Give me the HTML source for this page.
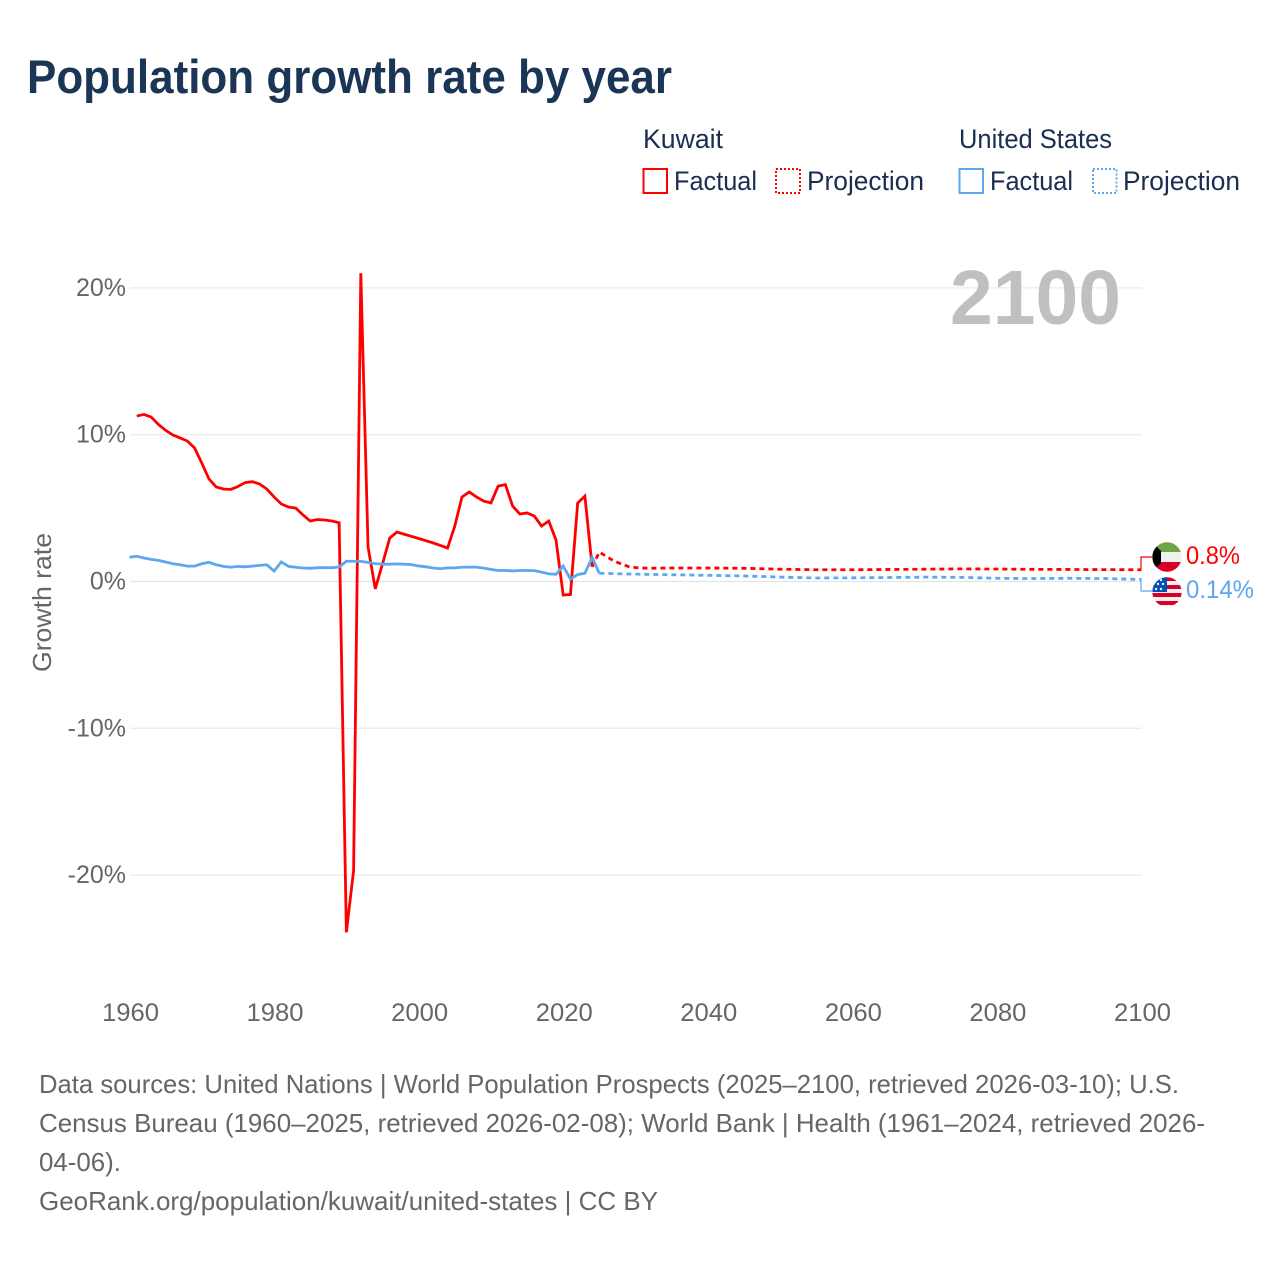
<!DOCTYPE html>
<html lang="en">
<head>
<meta charset="utf-8">
<title>Population growth rate by year</title>
<style>
html,body{margin:0;padding:0;background:#fff;}
svg{display:block;font-family:"Liberation Sans",sans-serif;}
</style>
</head>
<body>
<svg id="chart" width="1280" height="1280" viewBox="0 0 1280 1280" xmlns="http://www.w3.org/2000/svg">
  <rect width="1280" height="1280" fill="#fff"/>
  <text x="27" y="93" font-size="47" font-weight="bold" fill="#1a3556" textLength="645" lengthAdjust="spacingAndGlyphs">Population growth rate by year</text>

  <g font-size="27" fill="#1a2e50">
    <text x="643" y="148" textLength="80" lengthAdjust="spacingAndGlyphs">Kuwait</text>
    <text x="959" y="148" textLength="153" lengthAdjust="spacingAndGlyphs">United States</text>
    <rect x="643.5" y="169" width="23.5" height="24" fill="none" stroke="#ff0000" stroke-width="2"/>
    <text x="674" y="190" textLength="83" lengthAdjust="spacingAndGlyphs">Factual</text>
    <rect x="776" y="169" width="24" height="24" fill="none" stroke="#ff0000" stroke-width="2" stroke-dasharray="2 2"/>
    <text x="807" y="190" textLength="117" lengthAdjust="spacingAndGlyphs">Projection</text>
    <rect x="959.5" y="169" width="23.5" height="24" fill="none" stroke="#5ca7f0" stroke-width="2"/>
    <text x="990" y="190" textLength="83" lengthAdjust="spacingAndGlyphs">Factual</text>
    <rect x="1093" y="169" width="23.5" height="24" fill="none" stroke="#5ca7f0" stroke-width="2" stroke-dasharray="2 2"/>
    <text x="1123" y="190" textLength="117" lengthAdjust="spacingAndGlyphs">Projection</text>
  </g>

  <g id="grid"></g>
  <g id="yticks" font-size="25" fill="#666" text-anchor="end"></g>
  <g id="xticks" font-size="25" fill="#666" text-anchor="middle"></g>

  <text transform="translate(51,672) rotate(-90)" font-size="26" fill="#666" textLength="139" lengthAdjust="spacingAndGlyphs">Growth rate</text>
  <text x="950" y="324" font-size="77" font-weight="bold" fill="#c0c0c0" textLength="171" lengthAdjust="spacingAndGlyphs">2100</text>

  <g id="series"></g>

  <g>
    <clipPath id="clip-kw"><circle cx="1167" cy="557" r="14.7"/></clipPath>
    <clipPath id="clip-us"><circle cx="1167" cy="592" r="14.7"/></clipPath>
    <g clip-path="url(#clip-kw)">
      <rect x="1152" y="542" width="30" height="10" fill="#6da544"/>
      <rect x="1152" y="552" width="30" height="10" fill="#f0f0f0"/>
      <rect x="1152" y="562" width="30" height="10" fill="#d80027"/>
      <polygon points="1152,542 1161,551 1161,563 1152,572" fill="#000"/>
    </g>
    <g clip-path="url(#clip-us)">
      <rect x="1152" y="577" width="30" height="30" fill="#f0f0f0"/>
      <rect x="1152" y="577" width="30" height="4" fill="#d80027"/>
      <rect x="1152" y="585" width="30" height="4" fill="#d80027"/>
      <rect x="1152" y="593" width="30" height="4" fill="#d80027"/>
      <rect x="1152" y="601" width="30" height="4" fill="#d80027"/>
      <rect x="1152" y="577" width="15" height="15" fill="#0052b4"/>
      <circle cx="1156" cy="589" r="1.2" fill="#f0f0f0"/>
      <circle cx="1161" cy="589" r="1.2" fill="#f0f0f0"/>
      <circle cx="1158" cy="584" r="1.2" fill="#f0f0f0"/>
      <circle cx="1163" cy="584" r="1.2" fill="#f0f0f0"/>
      <circle cx="1161" cy="580" r="1.2" fill="#f0f0f0"/>
    </g>
    <polyline points="1141,569 1141,557 1152,557" fill="none" stroke="#ff0000" stroke-width="1.2"/>
    <polyline points="1141,579 1141,591 1152,591" fill="none" stroke="#5ca7f0" stroke-width="1.2"/>
    <text x="1186" y="564" font-size="25" fill="#ff0000" textLength="54" lengthAdjust="spacingAndGlyphs">0.8%</text>
    <text x="1186" y="598" font-size="25" fill="#5ca7f0" textLength="68" lengthAdjust="spacingAndGlyphs">0.14%</text>
  </g>

  <g font-size="26" fill="#666">
    <text x="39" y="1093" textLength="1140" lengthAdjust="spacingAndGlyphs">Data sources: United Nations | World Population Prospects (2025–2100, retrieved 2026-03-10); U.S.</text>
    <text x="39" y="1132" textLength="1166" lengthAdjust="spacingAndGlyphs">Census Bureau (1960–2025, retrieved 2026-02-08); World Bank | Health (1961–2024, retrieved 2026-</text>
    <text x="39" y="1171" textLength="82" lengthAdjust="spacingAndGlyphs">04-06).</text>
    <text x="39" y="1210" textLength="619" lengthAdjust="spacingAndGlyphs">GeoRank.org/population/kuwait/united-states | CC BY</text>
  </g>
</svg>
<script>
const xTickYears = [1960, 1980, 2000, 2020, 2040, 2060, 2080, 2100];
const yTickValues = [20, 10, 0, -10, -20];
const yTickLabels = ['20%', '10%', '0%', '-10%', '-20%'];

const kuwaitFactualYears = [1961,1962,1963,1964,1965,1966,1967,1968,1969,1970,1971,1972,1973,1974,1975,1976,1977,1978,1979,1980,1981,1982,1983,1984,1985,1986,1987,1988,1989,1990,1991,1992,1993,1994,1995,1996,1997,1998,1999,2000,2001,2002,2003,2004,2005,2006,2007,2008,2009,2010,2011,2012,2013,2014,2015,2016,2017,2018,2019,2020,2021,2022,2023,2024];
const kuwaitFactualValues = [11.27,11.38,11.2,10.7,10.3,9.98,9.78,9.57,9.1,8.07,6.98,6.44,6.3,6.27,6.47,6.74,6.8,6.64,6.3,5.76,5.28,5.07,5.0,4.53,4.12,4.22,4.19,4.12,4.0,-23.9,-19.7,21.0,2.35,-0.5,1.2,2.96,3.37,3.22,3.08,2.93,2.78,2.63,2.46,2.28,3.78,5.76,6.1,5.76,5.48,5.35,6.5,6.6,5.14,4.6,4.67,4.46,3.78,4.12,2.83,-0.92,-0.89,5.35,5.82,1.0];
const kuwaitProjectionYears = [2024,2025,2026,2027,2028,2029,2030,2031,2032,2035,2040,2045,2050,2055,2060,2065,2070,2075,2080,2085,2090,2095,2100];
const kuwaitProjectionValues = [1.0,2.0,1.7,1.4,1.2,1.02,0.95,0.92,0.9,0.92,0.92,0.9,0.84,0.8,0.8,0.82,0.84,0.86,0.85,0.83,0.82,0.81,0.8];

const usFactualYears = [1960,1961,1962,1963,1964,1965,1966,1967,1968,1969,1970,1971,1972,1973,1974,1975,1976,1977,1978,1979,1980,1981,1982,1983,1984,1985,1986,1987,1988,1989,1990,1991,1992,1993,1994,1995,1996,1997,1998,1999,2000,2001,2002,2003,2004,2005,2006,2007,2008,2009,2010,2011,2012,2013,2014,2015,2016,2017,2018,2019,2020,2021,2022,2023,2024,2025];
const usFactualValues = [1.65,1.72,1.6,1.51,1.44,1.33,1.21,1.14,1.05,1.05,1.21,1.31,1.14,1.03,0.97,1.03,1.0,1.05,1.1,1.14,0.71,1.33,1.03,0.97,0.92,0.9,0.94,0.94,0.94,0.99,1.38,1.38,1.37,1.3,1.22,1.18,1.18,1.2,1.18,1.15,1.06,1.0,0.92,0.87,0.93,0.93,0.97,0.98,0.98,0.91,0.83,0.75,0.76,0.72,0.75,0.75,0.74,0.64,0.52,0.49,1.05,0.17,0.47,0.56,1.64,0.56];
const usProjectionYears = [2025,2030,2035,2040,2045,2050,2055,2060,2065,2070,2075,2080,2085,2090,2095,2100];
const usProjectionValues = [0.56,0.5,0.46,0.42,0.38,0.3,0.24,0.25,0.27,0.3,0.28,0.22,0.2,0.22,0.2,0.14];

const svgNS = 'http://www.w3.org/2000/svg';
const xScale = year => 129.5 + (year - 1960) * (1012 / 140);
const yScale = value => 581.5 - value * 14.68;

const gridLayer = document.getElementById('grid');
const yTickLayer = document.getElementById('yticks');
const xTickLayer = document.getElementById('xticks');
const seriesLayer = document.getElementById('series');

yTickValues.forEach((value, i) => {
  const line = document.createElementNS(svgNS, 'line');
  
  
  line.setAttribute('x1', 130);
  line.setAttribute('x2', 1142);
  line.setAttribute('y1', yScale(value));
  line.setAttribute('y2', yScale(value));
  line.setAttribute('stroke', value === 0 ? '#e4e4e4' : '#ececec');
  line.setAttribute('stroke-width', 1.3);
  gridLayer.appendChild(line);

  const label = document.createElementNS(svgNS, 'text');
  
  
  label.setAttribute('x', 126);
  label.setAttribute('y', yScale(value) + 8);
  label.textContent = yTickLabels[i];
  yTickLayer.appendChild(label);
});

xTickYears.forEach(year => {
  const label = document.createElementNS(svgNS, 'text');
  
  
  label.setAttribute('x', xScale(year) + 1);
  label.setAttribute('y', 1021);
  label.setAttribute('textLength', 57);
  label.setAttribute('lengthAdjust', 'spacingAndGlyphs');
  label.textContent = String(year);
  xTickLayer.appendChild(label);
});

function linePoints(years, values) {
  return years.map((year, i) => xScale(year).toFixed(2) + ',' + yScale(values[i]).toFixed(2)).join(' ');
}

const kuwaitProjection = document.createElementNS(svgNS, 'polyline');


kuwaitProjection.setAttribute('points', linePoints(kuwaitProjectionYears, kuwaitProjectionValues));
kuwaitProjection.setAttribute('fill', 'none');
kuwaitProjection.setAttribute('stroke', '#ff0000');
kuwaitProjection.setAttribute('stroke-width', 2.8);
kuwaitProjection.setAttribute('stroke-dasharray', '5 4');
seriesLayer.appendChild(kuwaitProjection);

const kuwaitFactual = document.createElementNS(svgNS, 'polyline');


kuwaitFactual.setAttribute('points', linePoints(kuwaitFactualYears, kuwaitFactualValues));
kuwaitFactual.setAttribute('fill', 'none');
kuwaitFactual.setAttribute('stroke', '#ff0000');
kuwaitFactual.setAttribute('stroke-width', 2.8);
seriesLayer.appendChild(kuwaitFactual);

const usProjection = document.createElementNS(svgNS, 'polyline');


usProjection.setAttribute('points', linePoints(usProjectionYears, usProjectionValues));
usProjection.setAttribute('fill', 'none');
usProjection.setAttribute('stroke', '#5ca7f0');
usProjection.setAttribute('stroke-width', 2.8);
usProjection.setAttribute('stroke-dasharray', '5 4');
seriesLayer.appendChild(usProjection);

const usFactual = document.createElementNS(svgNS, 'polyline');


usFactual.setAttribute('points', linePoints(usFactualYears, usFactualValues));
usFactual.setAttribute('fill', 'none');
usFactual.setAttribute('stroke', '#5ca7f0');
usFactual.setAttribute('stroke-width', 2.8);
seriesLayer.appendChild(usFactual);
</script>
</body>
</html>
